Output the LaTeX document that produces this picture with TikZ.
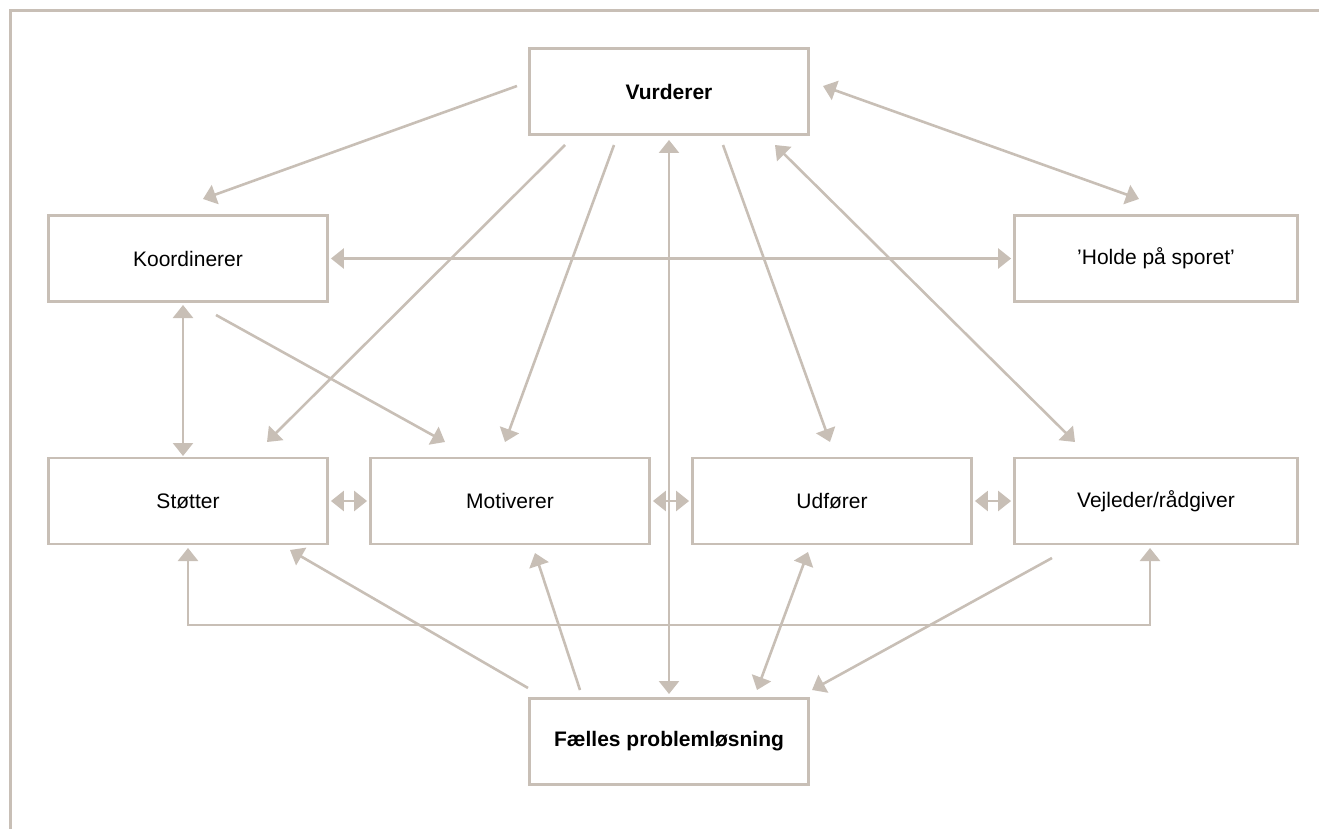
\documentclass[tikz,border=0pt]{standalone}
\usepackage{fontspec}
\setmainfont{Liberation Sans}
\usetikzlibrary{arrows.meta}
\definecolor{taupe}{RGB}{200,191,182}
\tikzset{
  box/.style={draw=taupe, line width=2.8pt, minimum width=279pt, minimum height=86pt, inner sep=0pt, font=\fontsize{21}{25}\selectfont},
  wbox/.style={box, minimum width=283pt},
  conn/.style={draw=taupe, line width=2.6pt, arrows={-Triangle[length=13pt,width=20pt,fill=taupe]}},
  dconn/.style={draw=taupe, line width=2.6pt, arrows={Triangle[length=13pt,width=20pt,fill=taupe]-Triangle[length=13pt,width=20pt,fill=taupe]}},
  frameline/.style={draw=taupe, line width=3pt}
}
\begin{document}
\begin{tikzpicture}[x=1pt,y=-1pt]
\useasboundingbox (0,0) rectangle (1319,829);
\draw[frameline] (1319,11) -- (10,11) -- (10,829);

\node[box, font=\fontsize{21}{25}\selectfont\bfseries] (V) at (669,91.5) {Vurderer};
\node[box] (K) at (188,258.5) {Koordinerer};
\node[wbox] (H) at (1156,258.5) {’Holde på sporet’};
\node[box] (S) at (188,501) {Støtter};
\node[box] (M) at (510,501) {Motiverer};
\node[box] (U) at (832,501) {Udfører};
\node[wbox] (VR) at (1156,501) {Vejleder/rådgiver};
\node[box, font=\fontsize{21}{25}\selectfont\bfseries] (F) at (669,741.5) {Fælles problemløsning};

% named end points
\coordinate (a1s) at (517,86);   \coordinate (a1e) at (203,199);
\coordinate (a2s) at (823,86);   \coordinate (a2e) at (1139,199);
\coordinate (a3s) at (565,145);  \coordinate (a3e) at (267,442);
\coordinate (a4s) at (614,145);  \coordinate (a4e) at (505,442);
\coordinate (a5s) at (669,140);  \coordinate (a5e) at (669,694);
\coordinate (a6s) at (723,145);  \coordinate (a6e) at (830,442);
\coordinate (a7s) at (775,145);  \coordinate (a7e) at (1075,442);
\coordinate (a9s) at (183,305);  \coordinate (a9e) at (183,456);
\coordinate (a10s) at (216,315); \coordinate (a10e) at (445,442);
\coordinate (b1) at (188,548);   \coordinate (b2) at (188,625);
\coordinate (b3) at (1150,625);  \coordinate (b4) at (1150,548);
\coordinate (a15s) at (528,688); \coordinate (a15e) at (290,550);
\coordinate (a16s) at (580,690); \coordinate (a16e) at (535,553);
\coordinate (a17s) at (808,552); \coordinate (a17e) at (757,690);
\coordinate (a18s) at (1052,558);\coordinate (a18e) at (812,690);

\draw[conn] (a1s) -- (a1e);
\draw[dconn] (a2s) -- (a2e);
\draw[conn] (a3s) -- (a3e);
\draw[conn] (a4s) -- (a4e);
\draw[dconn] (a5s) -- (a5e);
\draw[conn] (a6s) -- (a6e);
\draw[dconn] (a7s) -- (a7e);
\draw[dconn] ([xshift=2pt]K.east) -- ([xshift=-2pt]H.west);
\draw[dconn] (a9s) -- (a9e);
\draw[conn] (a10s) -- (a10e);
\draw[dconn] ([xshift=2pt]S.east) -- ([xshift=-2pt]M.west);
\draw[dconn] ([xshift=2pt]M.east) -- ([xshift=-2pt]U.west);
\draw[dconn] ([xshift=2pt]U.east) -- ([xshift=-2pt]VR.west);
\draw[dconn] (b1) -- (b2) -- (b3) -- (b4);
\draw[conn] (a15s) -- (a15e);
\draw[conn] (a16s) -- (a16e);
\draw[dconn] (a17s) -- (a17e);
\draw[conn] (a18s) -- (a18e);
\end{tikzpicture}
\end{document}
